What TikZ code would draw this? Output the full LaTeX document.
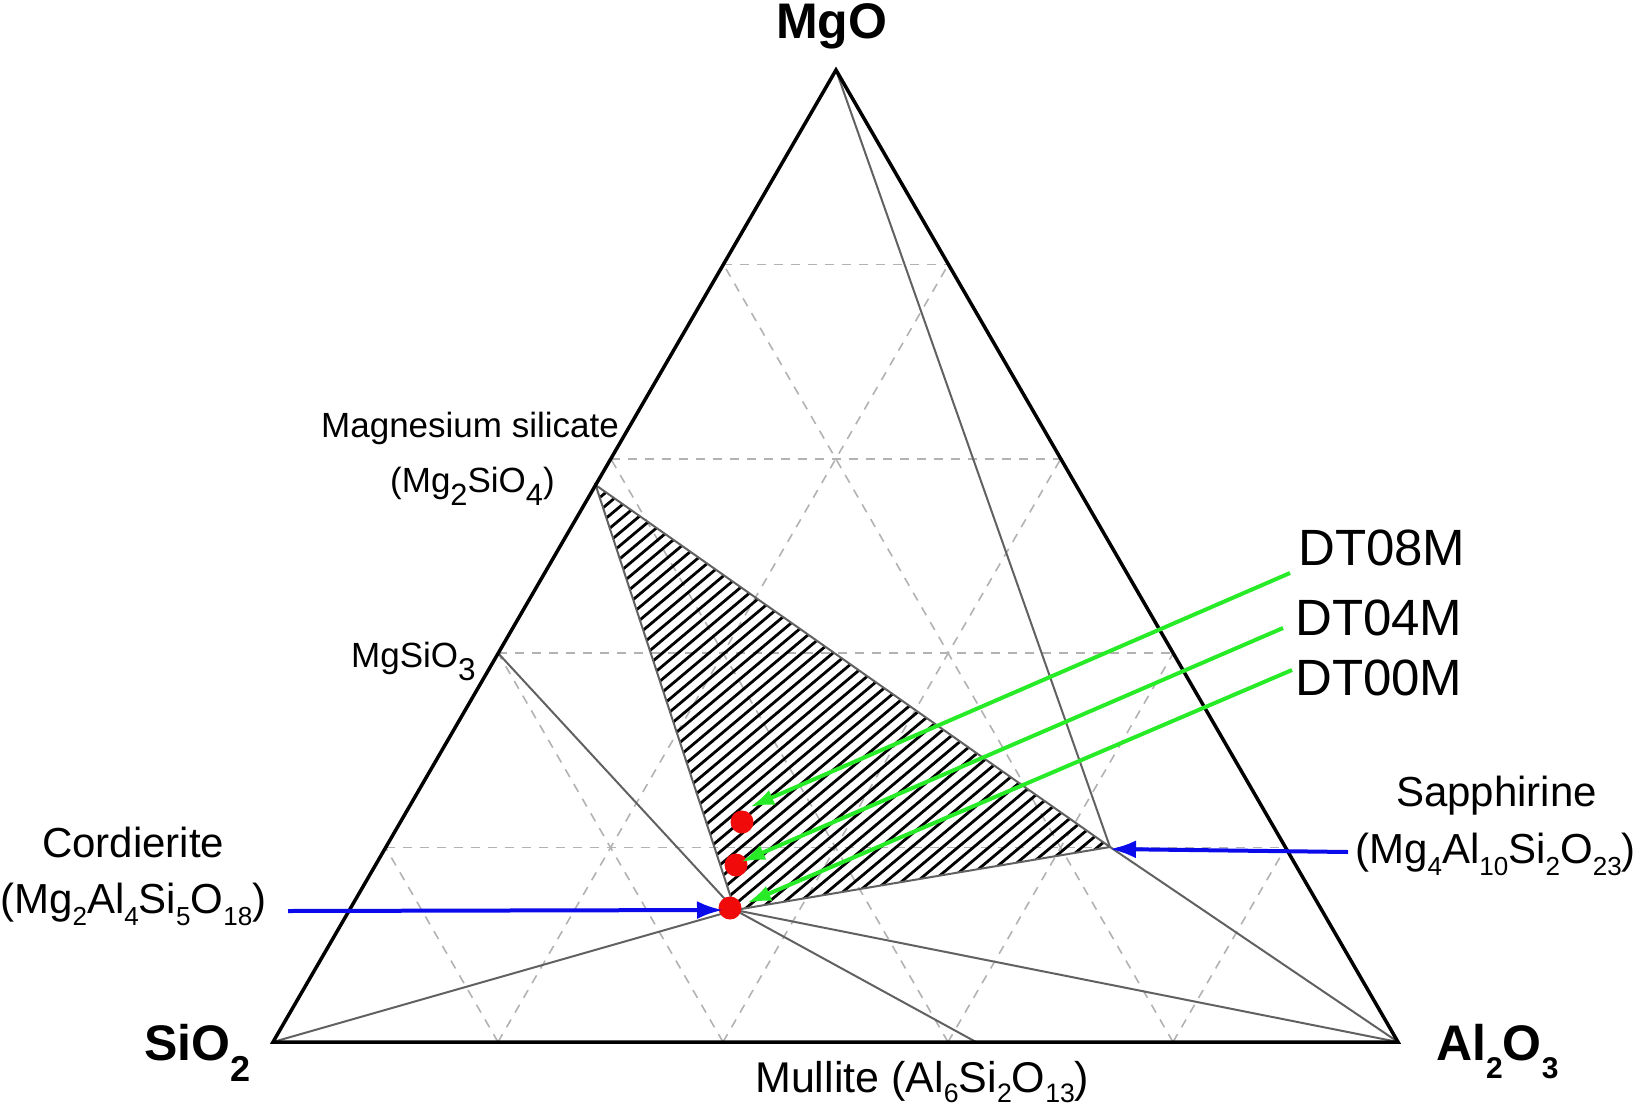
\documentclass[tikz,border=0pt]{standalone}
\usepackage{fontspec}
\usepackage{graphicx}
\setmainfont{Liberation Sans}
\usetikzlibrary{calc,arrows.meta}
\definecolor{grn}{RGB}{40,235,40}
\definecolor{blu}{RGB}{10,10,235}
\definecolor{rd}{RGB}{240,10,10}
\newcommand{\fs}[1]{\fontsize{#1}{#1}\selectfont}
\newcommand{\dn}[3]{\raisebox{-#2em}{\scalebox{#1}{#3}}}
\begin{document}
\begin{tikzpicture}[x=1pt,y=-1pt,
  frame/.style={draw=black, line width=3.5pt, line join=miter},
  tie/.style={draw=black!62, line width=2pt},
  gridl/.style={draw=black!30, line width=1.6pt, dash pattern=on 9pt off 8pt},
  hatchl/.style={draw=black, line width=2.8pt},
  lbl/.style={inner sep=0pt, anchor=base west},
  garrow/.style={draw=grn, line width=4pt, -{Latex[length=24pt,width=16pt]}},
  barrow/.style={draw=blu, line width=4pt, -{Latex[length=26pt,width=18pt]}},
  rdot/.style={circle, fill=rd, inner sep=0pt, minimum size=23pt}]
\useasboundingbox (0,0) rectangle (1639,1111);
% corners
\coordinate (A) at (836,70);
\coordinate (S) at (273,1042);
\coordinate (L) at (1398,1042);
% grid
\foreach \t in {0.2,0.4,0.6,0.8} {
  \draw[gridl] ($(S)!\t!(A)$) -- ($(L)!\t!(A)$);
  \draw[gridl] ($(S)!\t!(L)$) -- ($(A)!\t!(L)$);
  \draw[gridl] ($(L)!\t!(S)$) -- ($(A)!\t!(S)$);
}
% compounds
\coordinate (F) at ($(S)!0.573!(A)$);
\coordinate (E) at ($(S)!0.40!(A)$);
\coordinate (C) at (735,910);
\coordinate (Sp) at (1110,847);
\coordinate (Mu) at (976,1042);
% hatch
\begin{scope}
  \clip (F) -- (Sp) -- (C) -- cycle;
  \foreach \u in {-30,-14.5,...,950} \draw[hatchl] (\u,1000) -- (\u+715,400);
\end{scope}
% tie lines
\draw[tie] (F) -- (Sp) -- (C) -- cycle;
\draw[tie] (A) -- (Sp) -- (L);
\draw[tie] (E) -- (C);
\draw[tie] (S) -- (C) -- (Mu);
\draw[tie] (C) -- (L);
% frame
\draw[frame] (A) -- (S) -- (L) -- cycle;
% labels
\node[lbl, font=\fs{50}\bfseries] (mgo) at (776,38) {MgO};
\node[lbl, font=\fs{50}\bfseries] (sio2) at (144,1060) {SiO\dn{0.72}{0.42}{2}};
\node[lbl, font=\fs{50}\bfseries] (al2o3) at (1436,1060) {Al\dn{0.6}{0.37}{2}O\dn{0.6}{0.37}{3}};
\node[lbl, font=\fs{35}] (msil) at (321,437) {Magnesium silicate};
\node[lbl, font=\fs{35}] (fors) at (390,492) {(Mg\dn{0.88}{0.38}{2}SiO\dn{0.88}{0.38}{4})};
\node[lbl, font=\fs{35}] (enst) at (351,667) {MgSiO\dn{0.9}{0.38}{3}};
\node[lbl, font=\fs{42}] (cord) at (42,857) {Cordierite};
\node[lbl, font=\fs{42}] (cordf) at (0,913) {(Mg\dn{0.62}{0.3}{2}Al\dn{0.62}{0.3}{4}Si\dn{0.62}{0.3}{5}O\dn{0.62}{0.3}{18})};
\node[lbl, font=\fs{42}] (sapp) at (1396,806) {Sapphirine};
\node[lbl, font=\fs{42}] (sappf) at (1355,863) {(Mg\dn{0.62}{0.3}{4}Al\dn{0.62}{0.3}{10}Si\dn{0.62}{0.3}{2}O\dn{0.62}{0.3}{23})};
\node[lbl, font=\fs{51}] (dt8) at (1298,565) {DT08M};
\node[lbl, font=\fs{51}] (dt4) at (1295,635) {DT04M};
\node[lbl, font=\fs{51}] (dt0) at (1295,695) {DT00M};
\node[lbl, font=\fs{43}] (mull) at (755,1092) {Mullite (Al\dn{0.62}{0.25}{6}Si\dn{0.62}{0.25}{2}O\dn{0.62}{0.25}{13})};
% red dots
\node[rdot] (d8) at (742,822) {};
\node[rdot] (d4) at (736,865) {};
\node[rdot] (d0) at (730,908) {};
% arrows
\coordinate (g8) at (1290,573);
\coordinate (g4) at (1283,628);
\coordinate (g0) at (1292,670);
\coordinate (t8) at (750,807);
\coordinate (t4) at (741,862);
\coordinate (t0) at (747,903);
\draw[garrow] (g8) -- (t8);
\draw[garrow] (g4) -- (t4);
\draw[garrow] (g0) -- (t0);
\coordinate (bc) at (288,911);
\coordinate (bct) at (723,910);
\coordinate (bs) at (1348,852);
\coordinate (bst) at (1110,849);
\draw[barrow] (bc) -- (bct);
\draw[barrow] (bs) -- (bst);
\end{tikzpicture}
\end{document}
